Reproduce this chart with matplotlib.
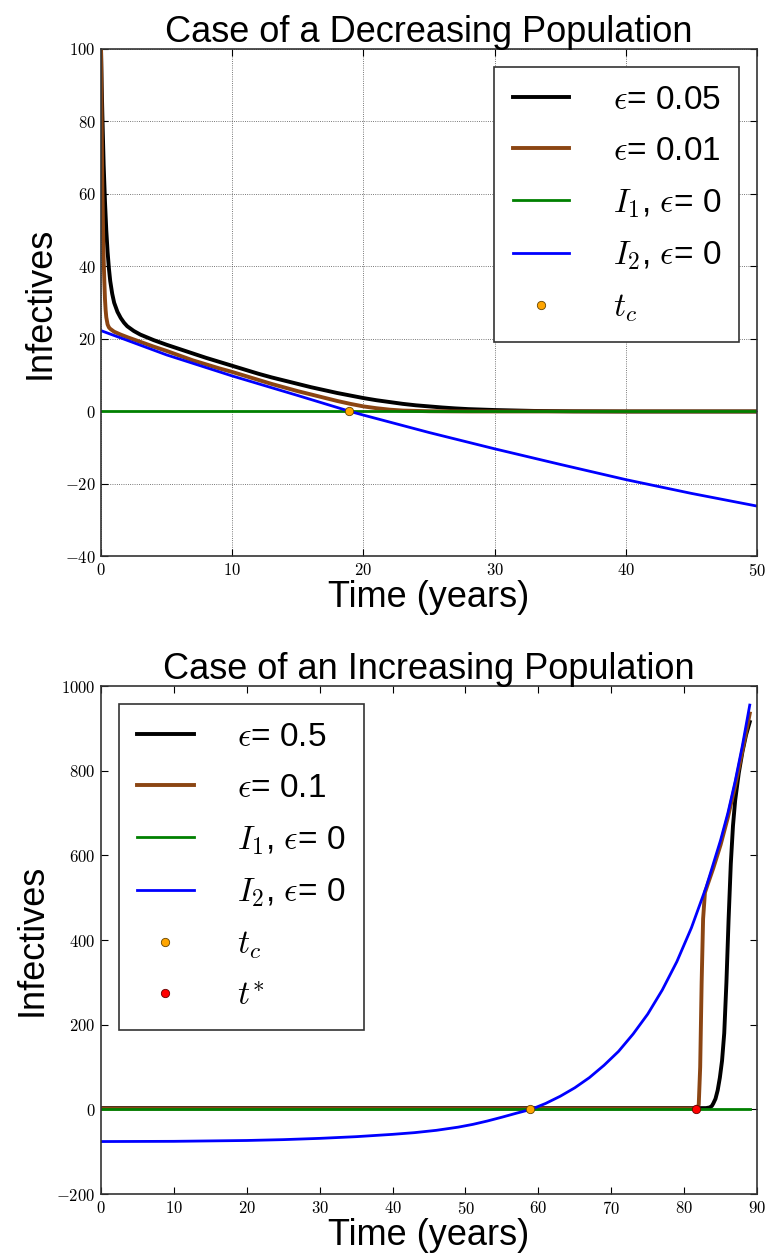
import numpy as np
import matplotlib
matplotlib.use("Agg")
import matplotlib.pyplot as plt
from matplotlib.ticker import FuncFormatter, MultipleLocator
from matplotlib.legend_handler import HandlerLine2D

plt.rcParams['font.family'] = ['Liberation Sans', 'DejaVu Sans']
plt.rcParams['mathtext.fontset'] = 'cm'

# ---- decreasing population (top) ----
t_black_dec = [0, 0.05, 0.1, 0.15, 0.2, 0.3, 0.4, 0.5, 0.6, 0.7, 0.85, 1, 1.25, 1.5, 1.75, 2, 2.5, 3, 4, 5, 6, 7, 8, 9,
               10, 11, 12, 13, 14, 15, 16, 17, 18, 19, 20, 21, 22, 23, 24, 25, 26, 27, 28, 30, 33, 36, 40, 50]
black_dec = [100, 90, 82, 75, 68, 58, 50, 44, 39.5, 36, 32.5, 30, 27.5, 25.8, 24.5, 23.5, 22.2, 21.2, 19.7, 18.4, 17.2, 16.0, 14.8, 13.7,
             12.6, 11.5, 10.4, 9.4, 8.5, 7.6, 6.7, 5.9, 5.1, 4.4, 3.7, 3.1, 2.6, 2.1, 1.7, 1.4, 1.1, 0.85, 0.65, 0.4, 0.15, 0.05, 0, 0]
t_brown_dec = [0, 0.025, 0.05, 0.075, 0.1, 0.15, 0.2, 0.25, 0.3, 0.35, 0.4, 0.5, 0.6, 0.7, 1, 1.5, 2, 3, 4, 5, 6, 7, 8, 9,
               10, 11, 12, 13, 14, 15, 16, 17, 18, 19, 20, 21, 22, 23, 25, 28, 50]
brown_dec = [100, 90, 80, 70, 62, 51, 42, 36, 31, 28, 26, 24, 23.2, 22.8, 22, 21.2, 20.5, 19.2, 17.9, 16.7, 15.4, 14.1, 13.0, 11.9,
             10.9, 9.8, 8.7, 7.6, 6.6, 5.6, 4.7, 3.8, 2.9, 2.1, 1.4, 0.9, 0.5, 0.25, 0.07, 0.01, 0]
t_green_dec = [0, 50]
green_dec = [0, 0]
t_blue_dec = [0, 5, 10, 15, 19, 20, 25, 30, 35, 40, 45, 50]
blue_dec = [22.3, 15.6, 9.8, 4.4, 0, -1.0, -5.8, -10.3, -14.6, -18.8, -22.6, -26.1]
tc_dec = [18.9]

# ---- increasing population (bottom) ----
t_black_inc = [0, 83, 83.5, 83.8, 84, 84.3, 84.6, 84.9, 85.2, 85.5, 85.8, 86.1, 86.4, 86.7, 87, 87.5, 88, 88.5, 89]
black_inc = [3, 3, 4.5, 8, 14, 25, 45, 75, 115, 180, 300, 450, 580, 670, 730, 795, 845, 885, 915]
t_brown_inc = [0, 81.6, 82.0, 82.2, 82.4, 82.6, 82.85, 83.2, 83.5, 84, 85, 86, 87, 88, 89]
brown_inc = [2, 2, 10, 100, 300, 450, 512, 530, 545, 570, 625, 690, 765, 848, 935]
t_green_inc = [0, 89]
green_inc = [0, 0]
t_blue_inc = [0, 10, 20, 25, 30, 35, 40, 43, 46, 49, 51, 53, 55, 57, 59, 61, 63, 65, 67, 69, 71, 73, 75, 77, 79,
              81, 83, 85, 86, 87, 88, 89]
blue_inc = [-76, -75.5, -73.5, -71.5, -68.5, -64.5, -59, -55, -49.5, -42, -35.5, -27.5, -18.5, -9, 0, 14, 31, 51, 75, 104, 137,
            178, 225, 282, 349, 429, 524, 636, 700, 775, 860, 955]
tc_inc = [58.9]
t_star = [81.6]


class RightMarker(HandlerLine2D):
    # put the single legend marker near the right end of the handle
    def get_xdata(self, legend, xdescent, ydescent, width, height, fontsize):
        xdata = np.array([-xdescent, -xdescent + width])
        return xdata, np.array([-xdescent + width - 0.1 * fontsize])


def style_axes(ax):
    ax.tick_params(direction='in', top=True, right=True, length=5, width=0.8,
                   labelsize=12, pad=4)
    ax.xaxis.set_major_formatter(FuncFormatter(lambda v, p: r'$%d$' % v))
    ax.yaxis.set_major_formatter(FuncFormatter(lambda v, p: r'$%d$' % v))
    for s in ax.spines.values():
        s.set_linewidth(1.2)
        s.set_color('#333333')
    ax.set_xlabel('Time (years)', fontsize=26, labelpad=1)
    ax.set_ylabel('Infectives', fontsize=26, labelpad=5)


def add_legend(ax, loc):
    leg = ax.legend(loc=loc, fontsize=24, fancybox=False, framealpha=1,
                    edgecolor='#333333', numpoints=1, handlelength=1.7,
                    handletextpad=1.3, labelspacing=0.6, borderpad=0.55,
                    borderaxespad=0.53,
                    handler_map={matplotlib.lines.Line2D: RightMarker()})
    leg.get_frame().set_linewidth(1.2)
    return leg


fig = plt.figure(figsize=(7.66, 12.59), dpi=100)

ax1 = fig.add_axes([0.1319, 0.5580, 0.8564, 0.4031])
ax1.plot(t_black_dec, black_dec, color='black', lw=2.8, label=r'$\epsilon$= 0.05')
ax1.plot(t_brown_dec, brown_dec, color='#8B4513', lw=2.8, label=r'$\epsilon$= 0.01')
ax1.plot(t_green_dec, green_dec, color='green', lw=2, label=r'$I_1$, $\epsilon$= 0')
ax1.plot(t_blue_dec, blue_dec, color='blue', lw=2, label=r'$I_2$, $\epsilon$= 0')
ax1.plot(tc_dec, [0], 'o', color='orange', mec='#664400', mew=0.6, ms=6, label=r'$t_c$')
ax1.set_xlim(0, 50)
ax1.set_ylim(-40, 100)
ax1.xaxis.set_major_locator(MultipleLocator(10))
ax1.yaxis.set_major_locator(MultipleLocator(20))
ax1.grid(True, color='black', linestyle=':', linewidth=0.6, alpha=0.7)
ax1.set_title('Case of a Decreasing Population', fontsize=26, pad=5)
style_axes(ax1)
add_legend(ax1, 'upper right')

ax2 = fig.add_axes([0.1319, 0.0516, 0.8564, 0.4035])
ax2.plot(t_black_inc, black_inc, color='black', lw=2.8, label=r'$\epsilon$= 0.5')
ax2.plot(t_brown_inc, brown_inc, color='#8B4513', lw=2.8, label=r'$\epsilon$= 0.1')
ax2.plot(t_green_inc, green_inc, color='green', lw=2, label=r'$I_1$, $\epsilon$= 0')
ax2.plot(t_blue_inc, blue_inc, color='blue', lw=2, label=r'$I_2$, $\epsilon$= 0')
ax2.plot(tc_inc, [0], 'o', color='orange', mec='#664400', mew=0.6, ms=6, label=r'$t_c$')
ax2.plot(t_star, [0], 'o', color='red', mec='#660000', mew=0.6, ms=6, label=r'$t^{*}$')
ax2.set_xlim(0, 90)
ax2.set_ylim(-200, 1000)
ax2.xaxis.set_major_locator(MultipleLocator(10))
ax2.yaxis.set_major_locator(MultipleLocator(200))
ax2.set_title('Case of an Increasing Population', fontsize=26, pad=5)
style_axes(ax2)
add_legend(ax2, 'upper left')

fig.savefig('out.png', dpi=100)
